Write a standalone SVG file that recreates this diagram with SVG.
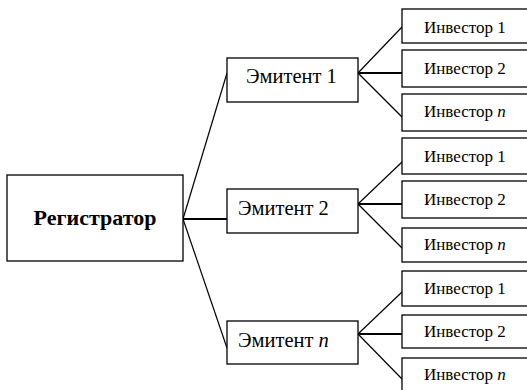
<svg xmlns="http://www.w3.org/2000/svg" width="527" height="390" viewBox="0 0 527 390">
<style>
.box{fill:#fff;stroke:#000;stroke-width:1.3}
.t{font-family:"Liberation Serif","DejaVu Serif","Times New Roman",serif;fill:#000}
.inv{font-size:17px}
.em{font-size:20.5px}
.reg{font-size:22px;font-weight:bold}
.c{stroke:#000;stroke-width:1.2;fill:none}
.h{stroke:#000;stroke-width:2.2;fill:none}
</style>
<rect width="527" height="390" fill="#fff"/>
<g id="connectors">
<line class="c" x1="183" y1="219" x2="227" y2="73"/>
<line class="h" x1="183" y1="219" x2="227" y2="219"/>
<line class="c" x1="183" y1="219" x2="227" y2="348"/>
<line class="c" x1="358" y1="73" x2="402" y2="27"/>
<line class="h" x1="358" y1="73" x2="402" y2="73"/>
<line class="c" x1="358" y1="73" x2="402" y2="117"/>
<line class="c" x1="358" y1="204" x2="402" y2="162"/>
<line class="h" x1="358" y1="204" x2="402" y2="204"/>
<line class="c" x1="358" y1="204" x2="402" y2="248"/>
<line class="c" x1="358" y1="334" x2="402" y2="292"/>
<line class="h" x1="358" y1="334" x2="402" y2="334"/>
<line class="c" x1="358" y1="334" x2="402" y2="379"/>
</g>
<g id="registrator"><rect class="box" x="7" y="175" width="176" height="86"/><text class="t reg" x="95" y="225" text-anchor="middle">Регистратор</text></g>
<g id="emitent1"><rect class="box" x="227" y="58" width="131" height="44"/><text class="t em" x="246" y="83">Эмитент 1</text></g>
<g id="emitent2"><rect class="box" x="227" y="189" width="131" height="44"/><text class="t em" x="238" y="215">Эмитент 2</text></g>
<g id="emitentn"><rect class="box" x="227" y="321" width="131" height="43"/><text class="t em" x="238" y="347">Эмитент <tspan font-style="italic">n</tspan></text></g>
<g id="inv1-1"><rect class="box" x="402" y="9" width="130" height="34"/><text class="t inv" x="424" y="33">Инвестор 1</text></g>
<g id="inv1-2"><rect class="box" x="402" y="50" width="130" height="37"/><text class="t inv" x="424" y="74">Инвестор 2</text></g>
<g id="inv1-n"><rect class="box" x="402" y="94" width="130" height="37"/><text class="t inv" x="424" y="117">Инвестор <tspan font-style="italic">n</tspan></text></g>
<g id="inv2-1"><rect class="box" x="402" y="138" width="130" height="36"/><text class="t inv" x="424" y="162">Инвестор 1</text></g>
<g id="inv2-2"><rect class="box" x="402" y="181" width="130" height="37"/><text class="t inv" x="424" y="205">Инвестор 2</text></g>
<g id="inv2-n"><rect class="box" x="402" y="228" width="130" height="34"/><text class="t inv" x="424" y="250">Инвестор <tspan font-style="italic">n</tspan></text></g>
<g id="inv3-1"><rect class="box" x="402" y="271" width="130" height="35"/><text class="t inv" x="424" y="294">Инвестор 1</text></g>
<g id="inv3-2"><rect class="box" x="402" y="315" width="130" height="33"/><text class="t inv" x="424" y="337">Инвестор 2</text></g>
<g id="inv3-n"><rect class="box" x="402" y="358" width="130" height="40"/><text class="t inv" x="424" y="380">Инвестор <tspan font-style="italic">n</tspan></text></g>
</svg>
